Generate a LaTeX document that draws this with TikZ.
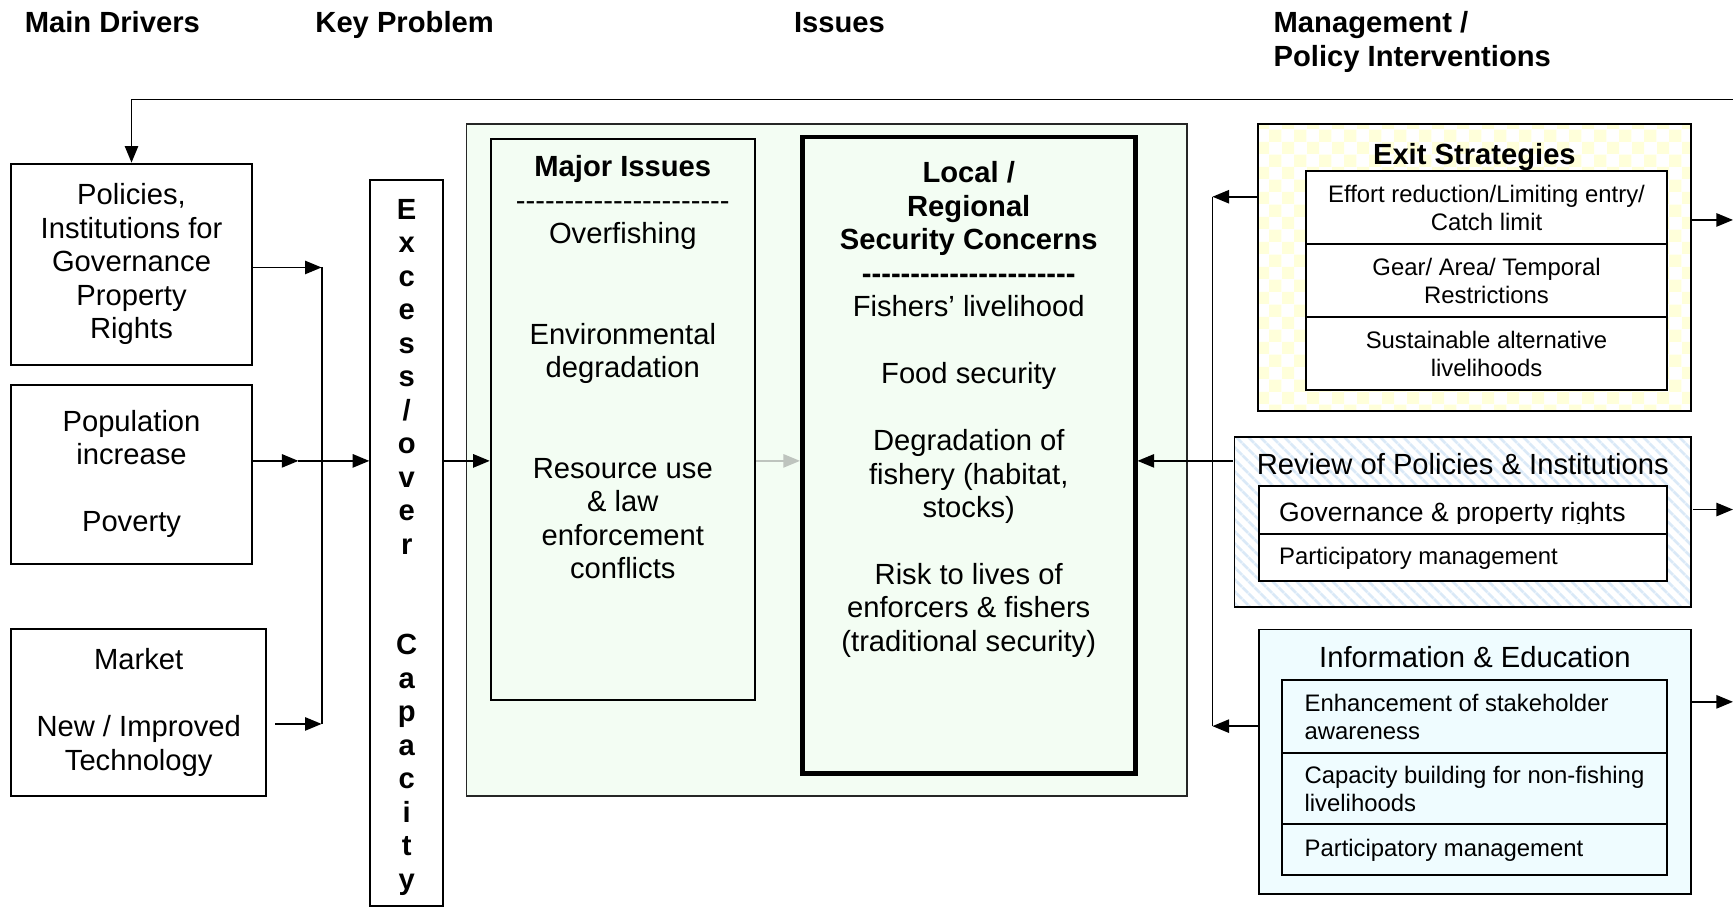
\documentclass[tikz,border=0pt]{standalone}
\usepackage{fontspec}
\setmainfont{Liberation Sans}
\usetikzlibrary{arrows.meta,patterns,patterns.meta}
\definecolor{grn}{RGB}{243,253,243}
\definecolor{chk}{RGB}{255,255,218}
\definecolor{strp}{RGB}{218,233,247}
\definecolor{cyn}{RGB}{239,252,255}
\definecolor{garrow}{RGB}{190,196,190}
\newcommand\fntbody{\fontsize{13.2}{15.15}\selectfont}
\newcommand\fntsmall{\fontsize{10.8}{12.5}\selectfont}
\newcommand\hyphs[1]{\foreach\ii in {1,...,#1}{-\kern0pt}}
\tikzset{
  box/.style={draw=black, line width=0.85pt, rectangle, inner sep=0pt, align=center, font=\fntbody},
  txt/.style={inner sep=0pt, align=center, font=\fntbody},
  ttl/.style={inner sep=0pt, font=\fntbody\bfseries},
  cell/.style={draw=black, fill=white, line width=0.85pt, inner sep=0pt, align=center, font=\fntsmall},
  arr/.style={-{Triangle[length=7.5pt,width=6pt]}, line width=0.8pt},
  garr/.style={-{Triangle[length=7.5pt,width=6pt]}, line width=0.8pt, draw=garrow},
  plain/.style={line width=0.8pt}
}
\begin{document}
\begin{tikzpicture}[x=0.5pt,y=-0.5pt]
\useasboundingbox (0,0) rectangle (1568,820);
% titles
\node[ttl, anchor=base west] (tmd) at (22,29.5) {Main Drivers};
\node[ttl, anchor=base west] (tkp) at (285,29.5) {Key Problem};
\node[ttl, anchor=base west] (tis) at (718,29.5) {Issues};
\node[ttl, anchor=west, align=left] (tmp) at (1152,37.75) {Management /\\Policy Interventions};
% drivers
\node[box, minimum width=109pt, minimum height=91pt] (pol) at (119,239) {Policies,\\Institutions for\\Governance\\Property\\Rights};
\node[box, minimum width=109pt, minimum height=81pt] (pop) at (119,429) {Population\\increase\\\mbox{}\\Poverty};
\node[box, minimum width=115.5pt, minimum height=75.5pt] (mkt) at (125.5,644.5) {Market\\\mbox{}\\New / Improved\\Technology};
% key problem
\node[box, minimum width=33pt, minimum height=328.25pt] (exb) at (368,491.25) {};
\node[txt, font=\fntbody\bfseries] (ext) at (368,495) {E\\x\\c\\e\\s\\s\\/\\o\\v\\e\\r\\\mbox{}\\\mbox{}\\C\\a\\p\\a\\c\\i\\t\\y};
% issues
\node[draw=black!85, fill=grn, line width=0.8pt, minimum width=326pt, minimum height=304pt, inner sep=0pt] (grnb) at (748,416) {};
\node[box, fill=grn, minimum width=119.5pt, minimum height=253.5pt] (mi) at (563.5,379.5) {};
\node[txt] (mit) at (563.5,332.5) {\textbf{Major Issues}\\\hyphs{22}\\Overfishing\\\mbox{}\\\mbox{}\\Environmental\\degradation\\\mbox{}\\\mbox{}\\Resource use\\\& law\\enforcement\\conflicts};
\node[draw=black, line width=2.2pt, fill=grn, minimum width=150.5pt, minimum height=288pt, inner sep=0pt] (loc) at (876.5,412) {};
\node[txt] (loct) at (876.5,370.5) {\textbf{Local /}\\\textbf{Regional}\\\textbf{Security Concerns}\\\textbf{\hyphs{22}}\\Fishers’ livelihood\\\mbox{}\\Food security\\\mbox{}\\Degradation of\\fishery (habitat,\\stocks)\\\mbox{}\\Risk to lives of\\enforcers \& fishers\\(traditional security)};
% exit strategies
\node[draw=black, line width=0.85pt, pattern=checkerboard, pattern color=chk, minimum width=196pt, minimum height=130pt, inner sep=0pt] (exit) at (1334,242) {};
\node[ttl, anchor=base] (exitt) at (1334,148.5) {Exit Strategies};
\node[cell, minimum width=163pt, minimum height=33pt] (e1) at (1345,188) {Effort reduction/Limiting entry/\\Catch limit};
\node[cell, minimum width=163pt, minimum height=33pt] (e2) at (1345,254) {Gear/ Area/ Temporal\\Restrictions};
\node[cell, minimum width=163pt, minimum height=33pt] (e3) at (1345,320) {Sustainable alternative\\livelihoods};
% review
\node[draw=black, line width=0.85pt, pattern={Lines[angle=-45,distance=4pt,line width=1.4pt]}, pattern color=strp, minimum width=206.5pt, minimum height=77pt, inner sep=0pt] (rev) at (1323.5,472) {};
\node[txt, anchor=base] (revt) at (1323.5,429.5) {Review of Policies \& Institutions};
\node[cell, minimum width=184.5pt, minimum height=21.5pt] (r1) at (1323.5,461.5) {};
\node[cell, minimum width=184.5pt, minimum height=21.5pt] (r2) at (1323.5,504.5) {};
\begin{scope}
\clip (1139,440) rectangle (1508,473.5);
\node[txt, anchor=base west, font=\fontsize{12}{14}\selectfont] (r1t) at (1157,472) {Governance \& property rights};
\end{scope}
\node[txt, anchor=base west, font=\fntsmall] (r2t) at (1157,511) {Participatory management};
% information
\node[draw=black, line width=0.85pt, fill=cyn, minimum width=195.5pt, minimum height=119.5pt, inner sep=0pt] (info) at (1334.5,689) {};
\node[txt, anchor=base] (infot) at (1334.5,603.5) {Information \& Education};
\node[cell, fill=cyn, minimum width=174pt, minimum height=33pt] (i1) at (1334,648.5) {};
\node[cell, fill=cyn, minimum width=174pt, minimum height=32.5pt] (i2) at (1334,713.75) {};
\node[cell, fill=cyn, minimum width=174pt, minimum height=23pt] (i3) at (1334,768.5) {};
\node[txt, anchor=west, align=left, font=\fntsmall] (i1t) at (1180,648.5) {Enhancement of stakeholder\\awareness};
\node[txt, anchor=west, align=left, font=\fntsmall] (i2t) at (1180,713.75) {Capacity building for non-fishing\\livelihoods};
\node[txt, anchor=west, align=left, font=\fntsmall] (i3t) at (1180,769) {Participatory management};
% connectors left
\coordinate (fbr) at (1568,90);
\draw[arr] (fbr) -| (pol.north);
\coordinate (jp) at (291,242);
\coordinate (jm) at (291,655);
\coordinate (jpop) at (270,417);
\coordinate (mkte) at ([xshift=3.5pt]mkt.east);
\draw[arr] (pol.east |- jp) -- (jp);
\draw[arr] (mkte |- jm) -- (jm);
\draw[plain] (jp) -- (jm);
\draw[arr] (pop.east |- jpop) -- (jpop);
\draw[arr] (jpop) -- (exb.west |- jpop);
\draw[arr] (exb.east |- jpop) -- (mi.west |- jpop);
\draw[garr] (mi.east |- jpop) -- (loc.west |- jpop);
% connectors right
\coordinate (rv1) at (1097,178);
\coordinate (rvm) at (1097,417);
\coordinate (rv2) at (1097,657);
\draw[plain] (rv1) -- (rv2);
\draw[arr] (exit.west |- rv1) -- (rv1);
\draw[arr] (info.west |- rv2) -- (rv2);
\draw[plain] (rev.west |- rvm) -- (rvm);
\draw[arr] (rvm) -- (loc.east |- rvm);
\coordinate (er) at (1568,199);
\coordinate (rr) at (1568,461);
\coordinate (ir) at (1568,635);
\draw[arr] (exit.east |- er) -- (er);
\draw[arr] (rev.east |- rr) -- (rr);
\draw[arr] (info.east |- ir) -- (ir);
\end{tikzpicture}
\end{document}
